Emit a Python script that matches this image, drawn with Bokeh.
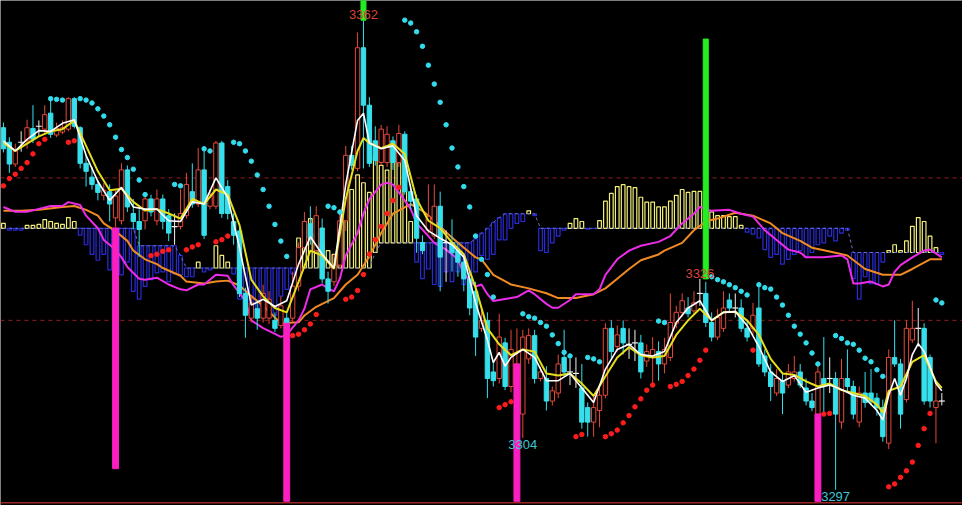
from bokeh.plotting import figure
from bokeh.models import Range1d, ColumnDataSource, Span
from bokeh.embed import file_html
from bokeh.resources import INLINE
from bokeh.core.properties import value

# ---------------- price candles ----------------
open_ = [3347.2, 3345.2, 3342.2, 3345.2, 3345.4, 3347.1, 3347.4, 3347.0, 3349.2, 3346.2,
         3346.6, 3347.0, 3351.2, 3347.2, 3342.3, 3340.4, 3339.4, 3337.9, 3338.4, 3334.8,
         3334.4, 3341.4, 3335.4, 3334.3, 3334.4, 3337.4, 3334.4, 3337.4, 3335.1, 3333.6,
         3333.6, 3335.1, 3338.4, 3336.7, 3341.4, 3336.4, 3336.4, 3345.1, 3339.1, 3334.3,
         3333.0, 3324.4, 3321.0, 3322.3, 3321.0, 3321.0, 3320.7, 3320.0, 3321.0, 3321.0,
         3325.4, 3330.7, 3334.0, 3330.3, 3333.4, 3326.4, 3326.0, 3328.3, 3334.4, 3343.4,
         3341.6, 3358.2, 3350.3, 3345.4, 3342.4, 3342.4, 3345.4, 3342.4, 3346.3, 3338.4,
         3337.4, 3331.4, 3333.1, 3332.3, 3336.4, 3331.4, 3331.4, 3330.3, 3328.7, 3326.4,
         3324.7, 3319.6, 3320.7, 3313.6, 3312.7, 3317.6, 3311.6, 3312.4, 3307.8, 3315.4,
         3318.6, 3312.7, 3312.7, 3309.6, 3310.7, 3315.6, 3313.6, 3313.4, 3311.4, 3308.7,
         3306.7, 3308.3, 3310.4, 3319.6, 3317.1, 3319.6, 3317.4, 3317.6, 3317.6, 3315.1,
         3315.8, 3316.4, 3314.7, 3315.6, 3320.3, 3321.8, 3322.4, 3322.0, 3324.4, 3324.4,
         3320.4, 3318.4, 3319.6, 3323.5, 3322.4, 3322.4, 3319.6, 3319.6, 3322.4, 3315.8,
         3313.6, 3310.7, 3312.4, 3311.8, 3312.7, 3313.6, 3311.4, 3309.6, 3307.8, 3312.7,
         3312.7, 3312.7, 3306.7, 3312.7, 3311.6, 3306.7, 3310.7, 3310.7, 3310.0, 3308.7,
         3303.8, 3315.6, 3314.7, 3309.8, 3318.0, 3319.6, 3319.6, 3315.6, 3308.7, 3309.6]
high = [3347.9, 3345.9, 3345.0, 3346.7, 3348.3, 3350.3, 3348.2, 3350.3, 3351.4, 3347.9,
        3348.2, 3351.4, 3351.4, 3347.4, 3343.4, 3341.8, 3340.0, 3339.6, 3339.4, 3338.6,
        3342.3, 3342.0, 3337.4, 3336.0, 3338.3, 3338.0, 3338.7, 3338.0, 3336.0, 3335.4,
        3338.7, 3341.0, 3342.3, 3344.4, 3344.3, 3338.7, 3345.4, 3345.4, 3340.0, 3335.4,
        3333.8, 3325.2, 3324.0, 3323.4, 3325.6, 3324.7, 3321.8, 3324.0, 3322.0, 3327.4,
        3331.4, 3335.6, 3336.4, 3336.4, 3334.7, 3327.4, 3329.8, 3336.0, 3344.7, 3344.7,
        3360.3, 3362.0, 3351.4, 3347.4, 3347.6, 3347.4, 3346.0, 3347.6, 3346.7, 3339.4,
        3338.0, 3332.4, 3339.4, 3339.4, 3338.4, 3333.1, 3334.6, 3331.4, 3329.8, 3327.4,
        3326.0, 3322.3, 3321.8, 3315.1, 3321.6, 3318.3, 3319.4, 3319.6, 3319.4, 3319.6,
        3319.4, 3314.3, 3314.4, 3311.6, 3316.0, 3319.4, 3315.4, 3315.6, 3314.7, 3309.4,
        3310.4, 3311.4, 3320.3, 3320.7, 3320.0, 3320.7, 3319.6, 3319.4, 3318.7, 3317.4,
        3318.4, 3317.8, 3318.3, 3324.4, 3322.7, 3324.4, 3323.9, 3324.7, 3326.4, 3326.0,
        3321.8, 3322.3, 3324.7, 3324.4, 3324.4, 3323.6, 3320.7, 3323.1, 3325.6, 3316.7,
        3314.7, 3314.0, 3313.4, 3314.7, 3315.8, 3314.7, 3312.7, 3310.7, 3314.7, 3318.4,
        3315.6, 3313.6, 3315.4, 3316.7, 3312.4, 3311.6, 3313.6, 3314.0, 3310.7, 3309.8,
        3316.7, 3320.7, 3315.4, 3320.7, 3323.4, 3322.4, 3320.3, 3316.0, 3312.3, 3310.7]
low = [3343.8, 3341.0, 3341.8, 3343.9, 3344.3, 3345.1, 3346.0, 3346.4, 3345.8, 3345.9,
       3346.3, 3346.7, 3347.1, 3341.6, 3339.1, 3338.7, 3337.2, 3337.2, 3334.3, 3333.5,
       3333.9, 3335.6, 3333.2, 3329.4, 3333.2, 3335.0, 3333.8, 3333.2, 3331.6, 3331.1,
       3333.2, 3334.7, 3336.2, 3336.3, 3331.9, 3336.0, 3336.0, 3334.8, 3334.6, 3331.1,
       3323.9, 3318.3, 3320.4, 3319.4, 3320.4, 3320.2, 3319.1, 3319.6, 3319.4, 3320.4,
       3324.7, 3330.3, 3331.1, 3329.8, 3325.8, 3323.0, 3325.4, 3327.9, 3333.0, 3341.4,
       3341.2, 3341.6, 3341.8, 3342.0, 3342.0, 3341.8, 3341.4, 3341.8, 3338.0, 3336.0,
       3330.0, 3329.8, 3332.7, 3331.9, 3324.7, 3326.0, 3327.4, 3326.7, 3324.7, 3321.4,
       3315.8, 3319.1, 3310.0, 3311.6, 3312.0, 3311.1, 3310.8, 3311.4, 3304.5, 3314.7,
       3312.0, 3312.3, 3308.3, 3309.0, 3310.0, 3313.0, 3311.8, 3311.4, 3305.8, 3304.7,
       3304.7, 3306.0, 3310.0, 3315.4, 3316.4, 3316.0, 3315.4, 3315.1, 3312.7, 3314.3,
       3312.0, 3312.4, 3313.4, 3315.1, 3319.6, 3321.2, 3321.1, 3321.5, 3322.7, 3319.8,
       3317.8, 3318.0, 3319.1, 3321.8, 3321.1, 3319.1, 3317.8, 3318.7, 3314.3, 3313.0,
       3309.6, 3310.3, 3307.8, 3311.4, 3312.3, 3311.4, 3309.0, 3308.2, 3307.4, 3308.0,
       3310.7, 3297.4, 3305.8, 3310.7, 3307.1, 3306.0, 3308.7, 3309.0, 3307.6, 3304.0,
       3303.0, 3314.3, 3305.8, 3309.4, 3317.6, 3317.1, 3309.1, 3308.7, 3303.8, 3309.0]
close = [3344.3, 3342.2, 3344.0, 3345.2, 3347.2, 3345.6, 3347.4, 3349.0, 3346.3, 3347.1,
         3347.2, 3351.2, 3347.4, 3342.3, 3341.2, 3339.4, 3338.3, 3338.6, 3336.7, 3337.8,
         3341.4, 3336.3, 3334.3, 3333.2, 3337.4, 3335.6, 3337.4, 3334.3, 3332.7, 3333.6,
         3335.4, 3339.4, 3336.7, 3341.4, 3332.4, 3338.0, 3345.1, 3335.4, 3335.4, 3332.4,
         3324.4, 3321.4, 3323.1, 3321.0, 3324.4, 3323.6, 3319.6, 3322.7, 3319.6, 3325.4,
         3330.7, 3334.3, 3332.0, 3335.1, 3326.4, 3324.7, 3328.3, 3334.4, 3343.4, 3342.0,
         3358.2, 3350.3, 3342.3, 3342.7, 3347.0, 3346.3, 3342.4, 3346.4, 3338.4, 3337.1,
         3332.0, 3330.3, 3335.0, 3336.4, 3329.4, 3331.4, 3330.0, 3328.7, 3326.4, 3322.4,
         3318.4, 3320.7, 3312.7, 3312.4, 3318.4, 3311.6, 3316.7, 3314.7, 3318.4, 3318.6,
         3312.7, 3313.6, 3309.6, 3311.0, 3314.7, 3313.6, 3313.6, 3313.4, 3306.7, 3306.7,
         3308.7, 3310.4, 3319.6, 3316.4, 3318.7, 3317.6, 3317.4, 3317.6, 3313.6, 3316.4,
         3316.7, 3314.7, 3316.7, 3320.4, 3321.8, 3323.4, 3321.6, 3323.1, 3324.4, 3320.4,
         3318.4, 3321.1, 3322.4, 3322.4, 3322.4, 3319.6, 3318.4, 3321.4, 3314.7, 3313.6,
         3311.6, 3312.7, 3310.7, 3313.6, 3313.6, 3311.8, 3309.6, 3308.7, 3313.6, 3311.6,
         3312.7, 3307.8, 3312.7, 3311.6, 3307.8, 3310.7, 3309.4, 3309.6, 3308.7, 3304.7,
         3315.6, 3314.7, 3307.8, 3319.6, 3319.6, 3319.6, 3309.6, 3309.6, 3309.6, 3309.6]

# ---------------- short / medium price averages ----------------
ma_w_idx = [0, 2, 4, 6, 8, 10, 12, 14, 16, 18, 20, 22, 24, 26, 28, 30, 32, 34, 36, 38,
            40, 42, 44, 46, 48, 50, 52, 54, 56, 58, 60, 61, 62, 64, 66, 68, 70, 72, 74, 76,
            78, 80, 82, 83, 84, 85, 86, 88, 90, 92, 94, 96, 98, 100, 102, 104, 106, 108, 110, 112,
            114, 116, 118, 120, 122, 124, 126, 128, 130, 132, 134, 136, 138, 140, 142, 144, 146, 148, 149, 150,
            151, 152, 153, 154, 155, 156, 157, 158, 159]
ma_w = [3345.4, 3344.0, 3345.6, 3346.8, 3346.7, 3347.8, 3348.3, 3343.4, 3339.8, 3337.2,
        3339.0, 3336.3, 3336.0, 3336.0, 3334.4, 3334.3, 3337.0, 3336.7, 3340.3, 3337.6,
        3330.7, 3322.8, 3323.6, 3322.6, 3323.4, 3328.4, 3332.2, 3329.8, 3327.9, 3339.4,
        3348.2, 3349.2, 3345.1, 3344.3, 3344.7, 3342.7, 3335.1, 3333.0, 3332.0, 3331.1,
        3329.4, 3323.1, 3318.0, 3314.9, 3316.3, 3314.4, 3315.6, 3316.7, 3315.6, 3312.4,
        3312.4, 3313.4, 3311.4, 3309.4, 3314.0, 3316.7, 3317.4, 3316.0, 3315.8, 3316.4,
        3320.4, 3322.4, 3323.4, 3320.7, 3321.8, 3321.9, 3320.0, 3317.1, 3313.6, 3312.3,
        3313.1, 3310.8, 3311.4, 3311.8, 3311.2, 3310.4, 3310.0, 3308.3, 3307.0, 3310.4,
        3312.7, 3310.4, 3312.7, 3316.0, 3317.5, 3316.4, 3314.3, 3312.0, 3311.0]

ma_y_idx = [0, 2, 4, 6, 8, 10, 12, 14, 16, 18, 20, 22, 24, 26, 28, 30, 32, 34, 36, 38,
            40, 42, 44, 46, 48, 50, 52, 54, 56, 58, 60, 61, 62, 64, 66, 68, 70, 72, 74, 76,
            78, 80, 82, 84, 86, 88, 90, 92, 94, 96, 98, 100, 102, 104, 106, 108, 110, 112, 114, 116,
            118, 120, 122, 124, 126, 128, 130, 132, 134, 136, 138, 140, 142, 144, 146, 148, 149, 150, 152, 154,
            156, 158, 159]
ma_y = [3345.1, 3344.0, 3345.0, 3346.0, 3346.7, 3347.0, 3348.2, 3344.7, 3341.2, 3338.6,
        3338.8, 3337.0, 3335.8, 3336.0, 3335.4, 3334.7, 3337.4, 3336.7, 3338.7, 3338.0,
        3333.8, 3326.3, 3324.0, 3322.4, 3321.8, 3326.0, 3330.3, 3329.6, 3327.8, 3337.4,
        3344.0, 3345.8, 3345.1, 3344.4, 3345.0, 3343.6, 3337.4, 3334.4, 3333.4, 3331.4,
        3329.8, 3325.2, 3319.6, 3317.4, 3315.9, 3316.7, 3316.4, 3313.4, 3313.1, 3313.4,
        3312.0, 3310.3, 3313.0, 3315.6, 3317.0, 3315.9, 3315.6, 3315.8, 3318.7, 3320.7,
        3322.3, 3320.7, 3321.8, 3321.9, 3320.7, 3318.7, 3315.4, 3313.4, 3313.2, 3312.3,
        3311.6, 3312.0, 3311.1, 3310.7, 3310.3, 3309.1, 3308.0, 3311.0, 3311.6, 3315.0,
        3315.9, 3312.3, 3311.4]

# ---------------- parabolic SAR (None = not drawn) ----------------
sar = [3339.2, 3340.2, 3340.8, 3341.6, 3342.4, 3343.6, 3345.0, 3345.6, 3351.2, 3351.1,
       3351.0, 3345.2, 3345.4, 3351.2, 3351.0, 3350.6, 3349.8, 3348.8, 3347.6, 3345.9,
       3344.2, 3343.1, 3341.5, 3340.0, 3338.0, 3329.6, 3329.8, 3330.2, 3330.4, 3339.4,
       3339.2, 3330.4, 3330.8, 3331.1, 3344.3, 3344.0, 3331.5, 3331.8, 3332.3, 3345.2,
       3345.0, 3344.0, 3342.6, 3340.7, 3338.7, 3336.4, 3333.9, 3331.6, 3329.5, 3318.6,
       3318.8, 3319.4, 3320.2, 3321.5, None, 3336.4, 3336.2, 3335.6, 3323.6, 3323.9,
       3324.8, 3327.0, 3329.8, 3331.8, 3333.6, 3335.4, 3337.2, 3339.0, 3362.0, 3361.6,
       3360.4, 3358.4, 3355.8, 3353.2, 3350.7, 3347.6, 3344.4, 3341.8, 3339.1, 3336.3,
       3332.3, 3329.1, 3327.0, 3323.9, 3308.7, 3309.1, 3309.5, 3309.8, 3321.6, 3321.2,
       3321.0, 3320.4, 3319.9, 3318.7, 3317.5, 3316.3, 3315.8, 3304.7, 3305.0, 3315.6,
       3315.4, 3315.0, 3304.7, 3305.1, 3305.6, 3306.6, 3307.6, 3308.8, 3309.9, 3311.1,
       3311.8, 3320.6, 3320.4, 3311.6, 3311.9, 3312.3, 3313.1, 3314.0, 3315.2, 3316.6,
       3326.7, 3326.3, 3326.0, 3325.6, 3325.2, 3324.7, 3324.2, 3316.6, 3325.6, 3325.2,
       3325.0, 3323.9, 3322.8, 3321.4, 3319.9, 3318.8, 3317.6, 3316.2, 3314.7, 3307.8,
       3307.9, 3318.6, 3318.2, 3317.6, 3317.4, 3316.6, 3315.5, 3315.0, 3313.9, 3313.0,
       3297.8, 3298.2, 3299.1, 3300.0, 3301.2, 3303.5, 3305.8, 3307.9, 3323.5, 3323.1]

# ---------------- oscillator (own scale) ----------------
dif_idx = [0, 2, 4, 6, 8, 10, 11, 13, 14, 16, 17, 19, 20, 21, 23, 24, 26, 28, 30, 31,
           33, 34, 36, 38, 39, 41, 42, 44, 46, 47, 48, 50, 51, 52, 54, 55, 56, 57, 58, 60,
           61, 62, 64, 65, 66, 67, 69, 70, 72, 73, 75, 77, 78, 80, 81, 82, 83, 85, 87, 89,
           90, 92, 93, 94, 96, 97, 100, 101, 102, 104, 106, 108, 111, 113, 115, 117, 118, 120, 123, 125,
           127, 129, 131, 133, 135, 136, 139, 142, 143, 144, 145, 147, 149, 150, 151, 152, 154, 156, 157, 159]
dif = [2.2, 1.7, 1.7, 2.0, 2.3, 2.3, 2.7, 2.4, 1.3, 0.0,
       -1.2, -2.2, -3.0, -4.0, -5.2, -5.3, -5.1, -5.8, -6.3, -6.4,
       -5.8, -5.8, -4.8, -4.9, -5.9, -7.5, -9.5, -10.3, -10.9, -11.2,
       -11.0, -9.5, -8.3, -6.3, -5.8, -6.2, -6.5, -5.2, -2.8, -0.5,
       1.5, 3.0, 4.5, 4.7, 4.5, 3.7, 2.0, 0.5, -0.8, -1.5,
       -2.2, -3.2, -4.7, -6.0, -5.8, -6.8, -7.5, -7.3, -7.1, -6.4,
       -6.8, -7.8, -8.2, -8.2, -7.4, -6.8, -6.8, -6.3, -4.8, -3.2,
       -2.3, -1.8, -1.4, -0.8, 0.5, 1.5, 2.2, 1.8, 1.9, 1.5,
       1.2, -0.2, -1.2, -2.2, -2.5, -3.0, -3.0, -2.8, -3.2, -5.7,
       -5.7, -5.5, -6.0, -5.8, -4.5, -3.8, -3.0, -2.3, -2.2, -3.0]

dea_idx = [0, 3, 6, 10, 12, 14, 16, 17, 19, 21, 22, 24, 26, 27, 30, 31, 34, 36, 38, 40,
           42, 44, 46, 47, 50, 51, 53, 56, 58, 60, 62, 64, 66, 69, 71, 73, 75, 77, 80, 81,
           83, 86, 89, 92, 94, 97, 100, 102, 104, 106, 108, 111, 112, 115, 117, 119, 121, 124, 127, 130,
           132, 135, 137, 140, 143, 146, 149, 152, 154, 157, 159]
dea = [1.8, 1.8, 1.9, 2.2, 2.3, 1.9, 1.3, 0.5, -0.3, -1.3,
       -2.3, -3.2, -3.7, -4.1, -4.9, -5.5, -5.7, -5.5, -5.4, -5.9,
       -7.0, -8.0, -9.2, -9.8, -9.7, -9.0, -8.1, -7.2, -5.8, -4.8,
       -2.9, -0.5, 1.5, 2.5, 1.8, 0.8, -0.4, -1.5, -3.0, -3.2,
       -4.8, -5.8, -6.2, -6.7, -7.2, -7.2, -6.8, -6.2, -5.2, -4.2,
       -3.3, -2.7, -2.3, -1.5, -0.2, 0.7, 1.0, 1.6, 1.3, 0.5,
       -0.5, -1.3, -2.0, -2.4, -2.8, -4.2, -4.8, -4.8, -4.2, -3.2, -3.2]

hist_base = [0.0, 0.0, 0.0, 0.0, 0.0, 0.0, 0.0, 0.0, 0.0, 0.0,
             0.0, 0.0, 0.0, 0.0, 0.0, 0.0, 0.0, 0.0, 0.0, 0.0,
             0.0, 0.0, 0.0, -1.8, -1.8, -1.8, -1.8, -1.8, -1.8, -1.8,
             -2.8, -4.1, -4.1, -4.1, -4.1, -4.1, -4.1, -4.1, -4.1, -4.1,
             -4.1, -4.1, -4.1, -4.1, -4.1, -4.1, -4.1, -4.1, -4.1, -4.1,
             -4.1, -4.1, -4.1, -4.1, -4.1, -4.1, -4.1, -4.1, -4.1, -4.1,
             -4.1, -4.1, -4.1, -2.5, -1.5, -1.5, -1.5, -1.5, -1.5, -1.5,
             -1.5, -1.5, -1.5, -1.5, -1.5, -1.5, -1.5, -1.5, -1.5, -1.5,
             -1.1, -0.5, 0.0, 0.6, 1.1, 1.5, 1.5, 1.5, 1.5, 1.5,
             1.5, 0.0, 0.0, 0.0, 0.0, 0.0, 0.0, 0.0, 0.0, 0.0,
             0.0, 0.0, 0.0, 0.0, 0.0, 0.0, 0.0, 0.0, 0.0, 0.0,
             0.0, 0.0, 0.0, 0.0, 0.0, 0.0, 0.0, 0.0, 0.0, 0.0,
             0.0, 0.0, 0.0, 0.0, 0.0, 0.0, 0.0, 0.0, 0.0, 0.0,
             0.0, 0.0, 0.0, 0.0, 0.0, 0.0, 0.0, 0.0, 0.0, 0.0,
             0.0, 0.0, 0.0, 0.0, -2.5, -2.5, -2.5, -2.5, -2.5, -2.5,
             -2.5, -2.5, -2.5, -2.5, -2.5, -2.5, -2.5, -2.5, -2.5, -2.5]
hist_val = [0.5, -0.2, -0.2, -0.2, 0.3, 0.3, 0.4, 0.9, 0.7, 0.5,
            0.4, 1.1, 0.7, -0.7, -1.7, -2.7, -3.3, -2.7, -4.3, -4.1,
            -4.8, -3.5, -6.5, -7.3, -6.0, -5.3, -4.6, -4.5, -5.5, -4.7,
            -4.8, -5.0, -5.0, -3.5, -4.5, -4.3, -1.8, -2.8, -3.5, -4.7,
            -7.3, -8.0, -9.0, -8.5, -8.7, -7.7, -9.0, -7.0, -6.3, -4.7,
            -1.0, 0.0, 1.0, -0.5, -1.5, -2.3, -2.7, 0.0, 5.5, 4.0,
            5.5, 4.7, 3.7, 7.5, 6.5, 6.0, 8.3, 7.2, 4.2, 0.7,
            -3.5, -5.2, -4.2, -5.8, -6.0, -4.5, -5.5, -4.5, -5.8, -4.8,
            -4.5, -2.8, -3.2, -2.7, -1.2, -1.2, 0.0, 0.5, 0.7, 1.8,
            1.3, -2.3, -2.5, -1.5, -0.8, -0.2, 0.5, 1.0, 0.7, -0.1,
            0.0, 0.8, 2.8, 3.6, 4.3, 4.5, 4.3, 4.2, 3.2, 2.7,
            2.7, 2.2, 2.2, 2.8, 3.4, 4.0, 3.7, 3.8, 3.8, 3.0,
            1.7, 1.3, 1.3, 1.2, 1.2, 0.3, -0.4, -0.6, -1.0, -2.2,
            -3.0, -2.7, -3.7, -3.2, -2.7, -2.3, -3.0, -2.5, -1.7, -1.5,
            -0.8, -1.3, -0.5, -0.2, -5.2, -7.3, -5.0, -5.7, -5.8, -3.5,
            -2.3, -1.7, -2.3, -1.3, 0.2, 1.1, 0.7, -0.8, -2.0, -2.7]

# ---------------- signal bars, reference levels, labels ----------------
sig_idx = [19, 48, 87, 138]
sig_top = [3333.4, 3320.3, 3314.7, 3307.8]
sig_bottom = [3300.3, 3295.8, 3295.8, 3295.8]
grn_idx = [61, 119]
grn_top = [3364.7, 3359.4]
grn_bottom = [3362.0, 3326.4]
ref_levels = [3340.3, 3320.7]
floor_level = 3295.6
hi_idx = [61, 118]
hi_price = [3362.0, 3326.4]
hi_text = ["3362", "3326"]
lo_idx = [88, 141]
lo_price = [3304.5, 3297.4]
lo_text = ["3304", "3297"]

# ---------------- colours ----------------
C_UP = "#e5483a"
C_DN = "#35e0ec"
C_DOJI = "#f2f2f2"

p = figure(width=962, height=505, x_range=Range1d(-0.5, 162.5),
           y_range=Range1d(3295.23, 3364.7), output_backend="svg",
           toolbar_location=None, background_fill_color="black",
           border_fill_color="black", outline_line_color=None, min_border=0,
           x_axis_location=None, y_axis_location=None)
p.grid.visible = False
p.extra_y_ranges = {"ind": Range1d(-28.6, 23.5)}

for lv in ref_levels:
    p.add_layout(Span(location=lv, dimension="width", line_color="#8f1f1f",
                      line_dash="4 4", line_width=1, level="underlay"))
p.add_layout(Span(location=floor_level, dimension="width", line_color="#9a2626",
                  line_width=1.5, level="underlay"))

# histogram
n = len(close)
idx = list(range(n))
h_top = [max(v, b) for v, b in zip(hist_val, hist_base)]
h_bot = [min(v, b) for v, b in zip(hist_val, hist_base)]
h_col = ["#f3ef78" if v > b else "#2a2ad6" for v, b in zip(hist_val, hist_base)]
p.vbar(x=idx, top=h_top, bottom=h_bot, width=0.62, fill_color=None,
       line_color=h_col, line_width=1.2, y_range_name="ind")
p.line(idx, hist_base, y_range_name="ind", line_color="#6a74c8",
       line_dash="3 3", line_width=1)

# oscillator lines
p.line(dea_idx, dea, y_range_name="ind", line_color="#f08a22", line_width=2)
p.line(dif_idx, dif, y_range_name="ind", line_color="#ec2ce8", line_width=2)

# candles
cols = []
fills = []
for o, c in zip(open_, close):
    if c > o:
        cols.append(C_UP); fills.append("black")
    elif c < o:
        cols.append(C_DN); fills.append(C_DN)
    else:
        cols.append(C_DOJI); fills.append(C_DOJI)
src = ColumnDataSource(dict(x=idx, o=open_, h=high, l=low, c=close, col=cols, fill=fills,
                            top=[max(a, b) for a, b in zip(open_, close)],
                            bot=[min(a, b) for a, b in zip(open_, close)]))
p.segment(x0="x", y0="l", x1="x", y1="h", line_color="col", line_width=1, source=src)
body_i = [i for i in idx if open_[i] != close[i]]
bsrc = ColumnDataSource(dict(x=body_i, top=[src.data["top"][i] for i in body_i],
                             bot=[src.data["bot"][i] for i in body_i],
                             col=[cols[i] for i in body_i], fill=[fills[i] for i in body_i]))
p.vbar(x="x", top="top", bottom="bot", width=0.74, fill_color="fill",
       line_color="col", line_width=1, source=bsrc)
doji_i = [i for i in idx if open_[i] == close[i]]
p.scatter(x=doji_i, y=[close[i] for i in doji_i], marker="dash", size=6,
          line_color=C_DOJI, line_width=1.2)

# moving averages
p.line(ma_y_idx, ma_y, line_color="#e6df1c", line_width=2)
p.line(ma_w_idx, ma_w, line_color="#ffffff", line_width=1.6)

# SAR
sx, sy, sc = [], [], []
for i, s in enumerate(sar):
    if s is None:
        continue
    sx.append(i); sy.append(s)
    sc.append("#33dcec" if s > close[i] else "#ff1c1c")
p.scatter(x=sx, y=sy, marker="circle", size=4.5, fill_color=sc, line_color=sc)

# signal bars
p.vbar(x=sig_idx, top=sig_top, bottom=sig_bottom, width=1.0,
       fill_color="#fb1fc0", line_color="#fb1fc0")
p.vbar(x=grn_idx, top=grn_top, bottom=grn_bottom, width=0.85,
       fill_color="#22ee22", line_color="#22ee22")

# labels
p.text(x=hi_idx, y=hi_price, text=hi_text, text_align="center", text_baseline="bottom",
       y_offset=-1, text_color="#d6463a", text_font=value("Liberation Sans"),
       text_font_size="13px")
p.text(x=lo_idx, y=lo_price, text=lo_text, text_align="center", text_baseline="top",
       y_offset=2, text_color="#3fc4d4", text_font=value("Liberation Sans"),
       text_font_size="13px")

open("out.html", "w").write(file_html(p, INLINE))
